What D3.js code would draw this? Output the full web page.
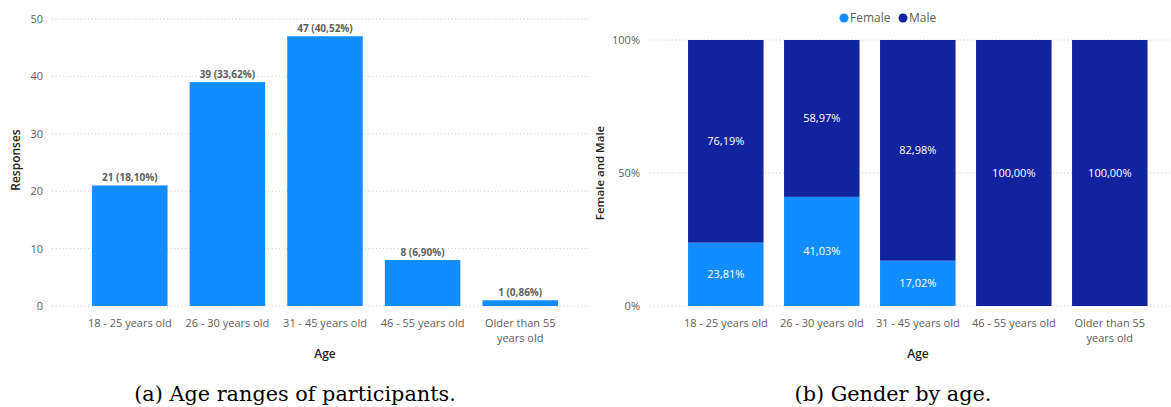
<!DOCTYPE html>
<html>
<head>
<meta charset="utf-8">
<script src="https://cdn.jsdelivr.net/npm/d3@7"></script>
<style>
  body { margin: 0; background: #fff; }
  text { font-family: "Open Sans", "Noto Sans", sans-serif; }
  .caption { font-family: "DejaVu Serif", "Liberation Serif", serif; }
</style>
</head>
<body>
<div id="container"></div>
<script>
// data
const ageGroups = ["18 - 25 years old", "26 - 30 years old", "31 - 45 years old", "46 - 55 years old", "Older than 55 years old"];
const responses = [21, 39, 47, 8, 1];
const responseShare = ["18,10%", "33,62%", "40,52%", "6,90%", "0,86%"];
const femalePct = [23.81, 41.03, 17.02, 0, 0];
const malePct = [76.19, 58.97, 82.98, 100, 100];
const countTicks = [0, 10, 20, 30, 40, 50];
const pctTicks = [0, 50, 100];

const W = 1171, H = 407;
const blue = "#118DFF", navy = "#12239E";
const tickColor = "#605E5C", titleColor = "#252423", gridColor = "#C8C6C4";

const svg = d3.select("#container")
    .append("svg")
    .attr("width", W)
    .attr("height", H);

// wrap "Older than 55 years old" into two lines like the original
function wrapLabel(s) {
    if (s === "Older than 55 years old") return ["Older than 55", "years old"];
    return [s];
}

function fmt(v) {
    return v.toFixed(2).replace(".", ",") + "%";
}

function xLabels(g, x, y0) {
    const lab = g.append("g").selectAll("text")
        .data(ageGroups)
        .enter()
        .append("text")
        .attr("x", d => x(d) + x.bandwidth() / 2)
        .attr("y", y0)
        .attr("text-anchor", "middle")
        .attr("fill", tickColor)
        .style("font-size", "11px");
    lab.each(function (d) {
        const lines = wrapLabel(d);
        d3.select(this).selectAll("tspan")
            .data(lines)
            .enter()
            .append("tspan")
            .attr("x", x(d) + x.bandwidth() / 2)
            .attr("dy", (l, i) => i === 0 ? 0 : 14.5)
            .text(l => l);
    });
}

function grid(g, y, ticks, x1, x2) {
    g.append("g").selectAll("line")
        .data(ticks)
        .enter()
        .append("line")
        .attr("x1", x1)
        .attr("x2", x2)
        .attr("y1", d => y(d))
        .attr("y2", d => y(d))
        .attr("stroke", gridColor)
        .attr("stroke-width", 1)
        .attr("stroke-dasharray", "1,2.6");
}

// ---------- (a) responses by age ----------
const ga = svg.append("g");
const xa = d3.scaleBand()
    .domain(ageGroups)
    .range([81, 569])
    .paddingInner(0.2264)
    .paddingOuter(0.1132);
const ya = d3.scaleLinear().domain([0, 50]).range([306, 19]);

grid(ga, ya, countTicks, 52, 589);

ga.append("g").selectAll("text")
    .data(countTicks)
    .enter()
    .append("text")
    .attr("x", 43)
    .attr("y", d => ya(d) + 4)
    .attr("text-anchor", "end")
    .attr("fill", tickColor)
    .style("font-size", "11px")
    .text(d => d);

ga.append("g").selectAll("rect")
    .data(responses)
    .enter()
    .append("rect")
    .attr("x", (d, i) => xa(ageGroups[i]))
    .attr("y", d => ya(d))
    .attr("width", xa.bandwidth())
    .attr("height", d => ya(0) - ya(d))
    .attr("fill", blue);

ga.append("g").selectAll("text")
    .data(responses)
    .enter()
    .append("text")
    .attr("x", (d, i) => xa(ageGroups[i]) + xa.bandwidth() / 2)
    .attr("y", d => ya(d) - 4)
    .attr("text-anchor", "middle")
    .attr("fill", tickColor)
    .style("font-size", "10px")
    .style("font-weight", "bold")
    .text((d, i) => d + " (" + responseShare[i] + ")");

xLabels(ga, xa, 327);

ga.append("text")
    .attr("x", 325)
    .attr("y", 358)
    .attr("text-anchor", "middle")
    .attr("fill", titleColor)
    .style("font-size", "12px")
    .style("font-weight", "600")
    .text("Age");

ga.append("text")
    .attr("transform", "translate(20,160) rotate(-90)")
    .attr("text-anchor", "middle")
    .attr("fill", titleColor)
    .style("font-size", "12px")
    .style("font-weight", "600")
    .text("Responses");

ga.append("text")
    .attr("class", "caption")
    .attr("x", 295)
    .attr("y", 401)
    .attr("text-anchor", "middle")
    .attr("fill", "#000")
    .style("font-size", "20.8px")
    .text("(a) Age ranges of participants.");

// ---------- (b) gender by age ----------
const gb = svg.append("g");
const xb = d3.scaleBand()
    .domain(ageGroups)
    .range([677.8, 1157.8])
    .paddingInner(0.2135)
    .paddingOuter(0.10675);
const yb = d3.scaleLinear().domain([0, 100]).range([306, 40]);

grid(gb, yb, pctTicks, 650, 1170);

gb.append("g").selectAll("text")
    .data(pctTicks)
    .enter()
    .append("text")
    .attr("x", 640)
    .attr("y", d => yb(d) + 4)
    .attr("text-anchor", "end")
    .attr("fill", tickColor)
    .style("font-size", "11px")
    .text(d => d + "%");

const stacks = ageGroups.map((a, i) => ({ age: a, female: femalePct[i], male: malePct[i] }));
const series = d3.stack().keys(["female", "male"])(stacks);
const colors = { female: blue, male: navy };

series.forEach(s => {
    const layer = gb.append("g");
    layer.selectAll("rect")
        .data(s)
        .enter()
        .append("rect")
        .attr("x", d => xb(d.data.age))
        .attr("y", d => yb(d[1]))
        .attr("width", xb.bandwidth())
        .attr("height", d => yb(d[0]) - yb(d[1]))
        .attr("fill", colors[s.key]);
    layer.selectAll("text")
        .data(s.filter(d => d[1] - d[0] > 0))
        .enter()
        .append("text")
        .attr("x", d => xb(d.data.age) + xb.bandwidth() / 2)
        .attr("y", d => (yb(d[0]) + yb(d[1])) / 2 + 4)
        .attr("text-anchor", "middle")
        .attr("fill", "#fff")
        .style("font-size", "11px")
        .text(d => fmt(d[1] - d[0]));
});

xLabels(gb, xb, 327);

gb.append("text")
    .attr("x", 918)
    .attr("y", 358)
    .attr("text-anchor", "middle")
    .attr("fill", titleColor)
    .style("font-size", "12px")
    .style("font-weight", "600")
    .text("Age");

gb.append("text")
    .attr("transform", "translate(604,173) rotate(-90)")
    .attr("text-anchor", "middle")
    .attr("fill", titleColor)
    .style("font-size", "11.5px")
    .style("font-weight", "600")
    .text("Female and Male");

// legend
const legend = [{ name: "Female", color: blue, x: 844 }, { name: "Male", color: navy, x: 903 }];
const lg = gb.append("g").selectAll("g")
    .data(legend)
    .enter()
    .append("g");
lg.append("circle")
    .attr("cx", d => d.x)
    .attr("cy", 18)
    .attr("r", 4.5)
    .attr("fill", d => d.color);
lg.append("text")
    .attr("x", d => d.x + 6)
    .attr("y", 22)
    .attr("fill", tickColor)
    .style("font-size", "12px")
    .text(d => d.name);

gb.append("text")
    .attr("class", "caption")
    .attr("x", 893)
    .attr("y", 401)
    .attr("text-anchor", "middle")
    .attr("fill", "#000")
    .style("font-size", "20.8px")
    .text("(b) Gender by age.");
</script>
</body>
</html>
